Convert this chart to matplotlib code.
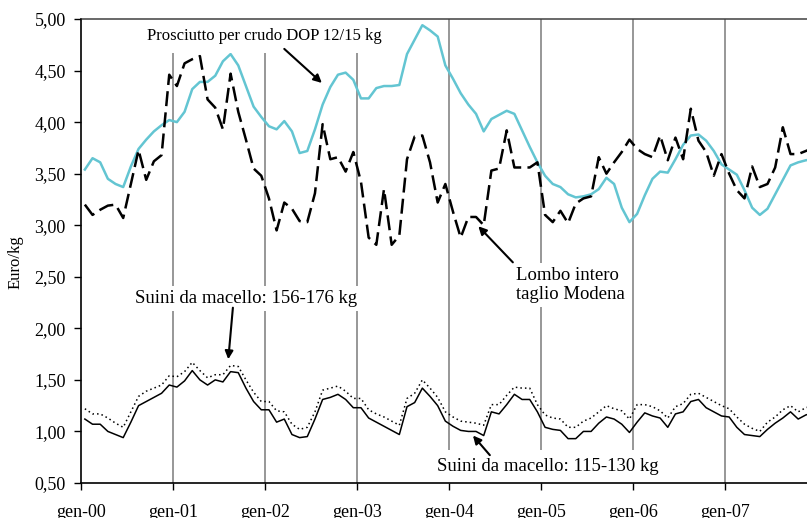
import numpy as np
import matplotlib.pyplot as plt

plt.rcParams['font.family'] = ['Liberation Serif', 'DejaVu Serif']
plt.rcParams['font.size'] = 12

# monthly prices (Euro/kg), gen-00 .. dic-07
prosciutto = [3.54, 3.65, 3.61, 3.45, 3.40, 3.37, 3.57, 3.74, 3.83, 3.91, 3.97, 4.02,
              4.00, 4.10, 4.32, 4.39, 4.39, 4.45, 4.59, 4.66, 4.55, 4.35, 4.15, 4.05,
              3.96, 3.93, 4.01, 3.91, 3.70, 3.72, 3.93, 4.17, 4.34, 4.46, 4.48, 4.41,
              4.23, 4.23, 4.33, 4.35, 4.35, 4.36, 4.66, 4.80, 4.94, 4.89, 4.83, 4.55,
              4.42, 4.28, 4.17, 4.08, 3.91, 4.03, 4.07, 4.11, 4.08, 3.92, 3.76, 3.61,
              3.48, 3.40, 3.37, 3.30, 3.27, 3.28, 3.30, 3.35, 3.46, 3.40, 3.17, 3.03,
              3.11, 3.29, 3.45, 3.52, 3.51, 3.64, 3.78, 3.87, 3.88, 3.82, 3.72, 3.59,
              3.54, 3.49, 3.34, 3.17, 3.10, 3.16, 3.30, 3.44, 3.58, 3.61, 3.63, 3.64]

lombo = [3.20, 3.10, 3.15, 3.19, 3.20, 3.07, 3.40, 3.73, 3.44, 3.62, 3.68, 4.46,
         4.35, 4.57, 4.61, 4.64, 4.22, 4.14, 3.93, 4.47, 4.10, 3.83, 3.55, 3.48,
         3.26, 2.95, 3.22, 3.16, 3.04, 3.03, 3.31, 3.98, 3.64, 3.66, 3.52, 3.71,
         3.42, 2.88, 2.81, 3.35, 2.81, 2.90, 3.64, 3.86, 3.87, 3.61, 3.22, 3.40,
         3.13, 2.88, 3.08, 3.08, 3.00, 3.53, 3.55, 3.92, 3.56, 3.56, 3.56, 3.61,
         3.10, 3.03, 3.14, 3.02, 3.21, 3.26, 3.28, 3.66, 3.50, 3.61, 3.71, 3.83,
         3.74, 3.69, 3.66, 3.87, 3.63, 3.85, 3.64, 4.13, 3.82, 3.71, 3.48, 3.69,
         3.50, 3.34, 3.26, 3.57, 3.37, 3.40, 3.56, 3.95, 3.69, 3.69, 3.72, 3.75]

suini_115_130 = [1.12, 1.07, 1.07, 1.00, 0.97, 0.94, 1.09, 1.25, 1.29, 1.33, 1.37, 1.45,
                 1.43, 1.49, 1.59, 1.50, 1.45, 1.50, 1.48, 1.58, 1.57, 1.42, 1.29, 1.21,
                 1.21, 1.09, 1.12, 0.97, 0.94, 0.95, 1.12, 1.31, 1.33, 1.36, 1.31, 1.23,
                 1.23, 1.13, 1.09, 1.05, 1.01, 0.97, 1.24, 1.28, 1.42, 1.34, 1.25, 1.10,
                 1.05, 1.01, 1.00, 1.00, 0.96, 1.19, 1.17, 1.26, 1.36, 1.31, 1.31, 1.19,
                 1.04, 1.02, 1.01, 0.93, 0.93, 1.00, 1.00, 1.08, 1.14, 1.12, 1.07, 0.99,
                 1.09, 1.18, 1.15, 1.13, 1.04, 1.17, 1.19, 1.29, 1.31, 1.23, 1.19, 1.15,
                 1.14, 1.04, 0.97, 0.96, 0.95, 1.02, 1.08, 1.13, 1.19, 1.12, 1.16, 1.18]

suini_156_176 = [1.22, 1.17, 1.17, 1.13, 1.08, 1.04, 1.19, 1.34, 1.39, 1.42, 1.45, 1.54,
                 1.53, 1.58, 1.67, 1.59, 1.52, 1.55, 1.55, 1.64, 1.63, 1.50, 1.38, 1.29,
                 1.29, 1.20, 1.19, 1.07, 1.02, 1.04, 1.19, 1.40, 1.42, 1.44, 1.39, 1.32,
                 1.32, 1.21, 1.17, 1.14, 1.10, 1.06, 1.32, 1.37, 1.50, 1.42, 1.33, 1.19,
                 1.14, 1.10, 1.09, 1.08, 1.06, 1.26, 1.26, 1.35, 1.43, 1.42, 1.42, 1.26,
                 1.16, 1.13, 1.12, 1.04, 1.04, 1.10, 1.13, 1.19, 1.25, 1.22, 1.20, 1.12,
                 1.26, 1.26, 1.24, 1.20, 1.13, 1.24, 1.27, 1.36, 1.37, 1.33, 1.29, 1.25,
                 1.22, 1.14, 1.07, 1.03, 1.00, 1.09, 1.14, 1.21, 1.25, 1.19, 1.23, 1.25]

year_labels = ['gen-00', 'gen-01', 'gen-02', 'gen-03', 'gen-04', 'gen-05', 'gen-06', 'gen-07']

# points sit in the middle of each month category
x = np.arange(len(prosciutto)) + 0.5
year_ticks = np.arange(len(year_labels)) * 12

fig = plt.figure(figsize=(8.07, 5.18), dpi=100)
ax = fig.add_axes([0.1004, 0.0676, 0.8996, 0.8957])

for t in year_ticks[1:]:
    ax.axvline(t, color='#7a7a7a', lw=1.1, zorder=1)

ax.plot(x, prosciutto, color='#63c5d2', lw=1.8, zorder=3)
ax.plot(x, lombo, color='black', lw=1.8, dashes=(6, 2.5), zorder=3)
ax.plot(x, suini_156_176, color='black', lw=1.1, dashes=(1, 2), zorder=3)
ax.plot(x, suini_115_130, color='black', lw=1.1, zorder=3)

ax.set_xlim(0, 94.65)
ax.set_ylim(0.5, 5.0)
ax.set_yticks(np.arange(0.5, 5.01, 0.5))
ax.set_yticklabels([f'{v:.2f}'.replace('.', ',') for v in np.arange(0.5, 5.01, 0.5)])
ax.set_xticks(year_ticks)
ax.set_xticklabels(year_labels)
ax.tick_params(direction='out', length=5, width=1, colors='black', labelsize=13)
ax.tick_params(axis='x', pad=10)
ax.tick_params(axis='y', pad=6)
ax.set_ylabel('Euro/kg', fontsize=12)
ax.yaxis.set_label_coords(-0.079, 0.475)

ax.spines['right'].set_visible(False)
ax.spines['top'].set_color('#404040')
ax.spines['top'].set_linewidth(1.1)
ax.spines['left'].set_linewidth(1.2)
ax.spines['bottom'].set_linewidth(1.2)
for sp in ax.spines.values():
    sp.set_zorder(8)
ax.xaxis.set_zorder(8)
ax.yaxis.set_zorder(8)

arrow = dict(arrowstyle='-|>', color='black', lw=1.5, mutation_scale=12, shrinkA=0, shrinkB=0)

ax.text(23.9, 4.84, 'Prosciutto per crudo DOP 12/15 kg', ha='center', va='center',
        fontsize=12, bbox=dict(facecolor='white', edgecolor='none', pad=7), zorder=4)
ax.annotate('', xy=(31.4, 4.38), xytext=(26.5, 4.71), arrowprops=arrow, zorder=5)

ax.text(56.7, 2.42, 'Lombo intero\ntaglio Modena', ha='left', va='center', fontsize=13.5,
        linespacing=1.2, bbox=dict(facecolor='white', edgecolor='none', pad=3), zorder=4)
ax.annotate('', xy=(51.8, 2.99), xytext=(56.3, 2.64), arrowprops=arrow, zorder=5)

ax.text(21.5, 2.29, 'Suini da macello: 156-176 kg', ha='center', va='center',
        fontsize=13.5, bbox=dict(facecolor='white', edgecolor='none', pad=3), zorder=4)
ax.annotate('', xy=(19.2, 1.70), xytext=(19.8, 2.20), arrowprops=arrow, zorder=5)

ax.text(60.9, 0.66, 'Suini da macello: 115-130 kg', ha='center', va='center',
        fontsize=13.5, bbox=dict(facecolor='white', edgecolor='none', pad=6), zorder=4)
ax.annotate('', xy=(51.1, 0.96), xytext=(53.3, 0.77), arrowprops=arrow, zorder=5)

fig.savefig('out.png', dpi=100)
